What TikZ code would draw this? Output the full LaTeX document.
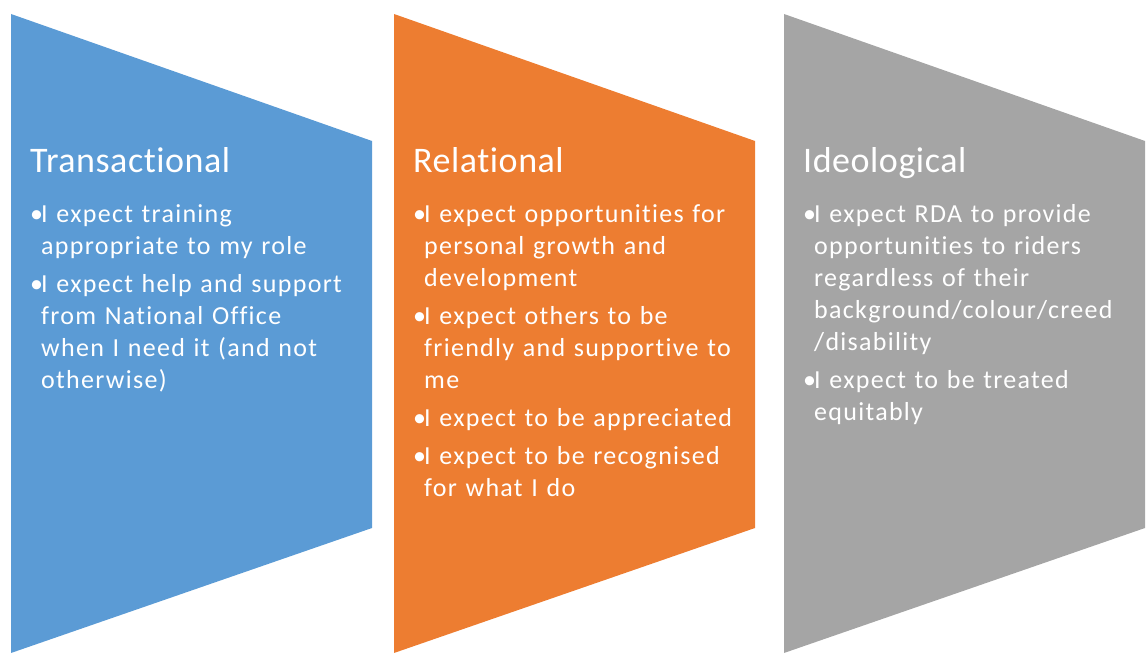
\documentclass[tikz,border=0pt]{standalone}
\usepackage{fontspec}
\setmainfont{Carlito}
\newfontfamily\headfont[LetterSpace=1.5,Ligatures=NoCommon,Contextuals=NoAlternate]{Carlito}
\newfontfamily\bodyfont[LetterSpace=5,Ligatures=NoCommon,Contextuals=NoAlternate]{Carlito}
\usepackage{tikz}

\definecolor{transblue}{HTML}{5B9BD5}
\definecolor{relorange}{HTML}{ED7D31}
\definecolor{ideogray}{HTML}{A5A5A5}

% one bullet of a panel, hanging under its first word
\newcommand{\expect}[1]{\par\hangindent=11pt\hangafter=1\noindent\makebox[11pt][l]{\textbullet}#1\par}

\tikzset{
  panel/.style={fill=#1, draw=none},
  heading/.style={anchor=base west, inner sep=0pt, text=white,
    font=\headfont\fontsize{36}{40}\selectfont},
  bullets/.style={anchor=base west, inner sep=0pt, text=white, text width=340pt,
    align=left, font=\bodyfont\fontsize{26}{32}\selectfont\setlength{\parskip}{6pt}}
}

\begin{document}
\begin{tikzpicture}[x=1pt,y=1pt]
\useasboundingbox (0,0) rectangle (1146,653);

% the three panels
\fill[panel=transblue]  (11,639)  -- (372,512)  -- (372,125)  -- (11,0)  -- cycle;
\fill[panel=relorange]  (394,639) -- (755,512)  -- (755,125)  -- (394,0) -- cycle;
\fill[panel=ideogray]   (784,639) -- (1145,512) -- (1145,125) -- (784,0) -- cycle;

\node (trans) [heading] at (30,480)  {Transactional};
\node (rel)   [heading] at (413,480) {Relational};
\node (ideo)  [heading] at (803,480) {Ideological};

\node (transitems) [bullets] at (30,468) {%
  \expect{I expect training\newline appropriate to my role}
  \expect{I expect help and support\newline from National Office\newline when I need it (and not\newline otherwise)}};

\node (relitems) [bullets] at (413,468) {%
  \expect{I expect opportunities for\newline personal growth and\newline development}
  \expect{I expect others to be\newline friendly and supportive to\newline me}
  \expect{I expect to be appreciated}
  \expect{I expect to be recognised\newline for what I do}};

\node (ideoitems) [bullets] at (803,468) {%
  \expect{I expect RDA to provide\newline opportunities to riders\newline regardless of their\newline background/colour/creed\newline /disability}
  \expect{I expect to be treated\newline equitably}};

\end{tikzpicture}
\end{document}
